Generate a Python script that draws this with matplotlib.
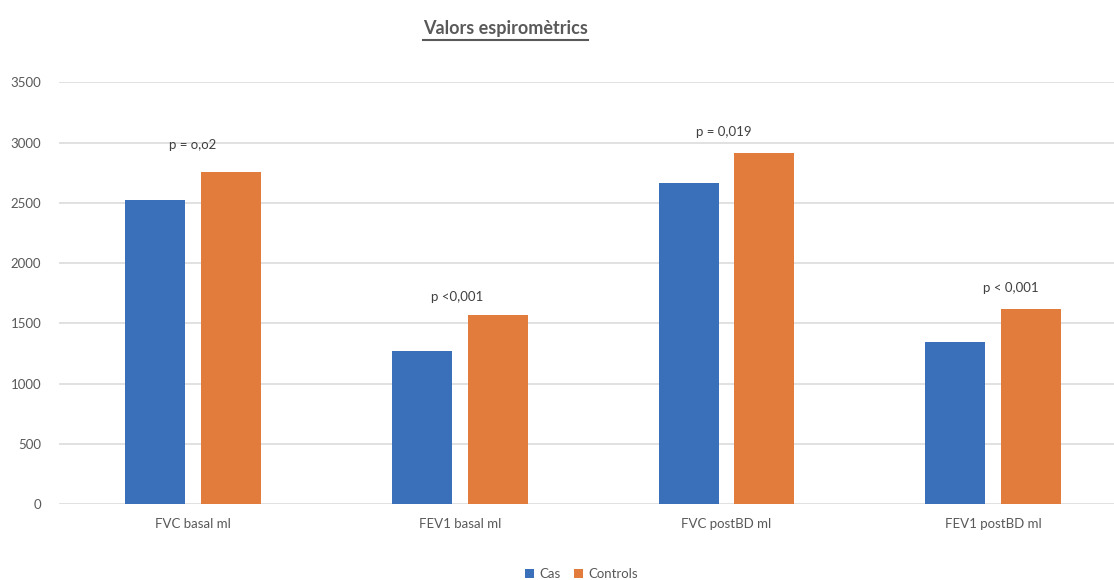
import matplotlib
matplotlib.use("Agg")
import matplotlib.pyplot as plt
import numpy as np
from matplotlib.lines import Line2D

plt.rcParams['font.family'] = ['Lato', 'DejaVu Sans']

categories = ["FVC basal ml", "FEV1 basal ml", "FVC postBD ml", "FEV1 postBD ml"]
cas = [2520, 1270, 2665, 1345]
controls = [2755, 1565, 2910, 1620]
p_labels = ["p = o,o2", "p <0,001", "p = 0,019", "p < 0,001"]
series_names = ["Cas", "Controls"]
yticks = [0, 500, 1000, 1500, 2000, 2500, 3000, 3500]

blue = "#3a6fb9"
orange = "#e27c3c"
text_gray = "#595959"

fig = plt.figure(figsize=(11.14, 5.80), dpi=100)
ax = fig.add_axes([0.0534, 0.131, 0.958, 0.727])

x = np.arange(len(categories))
w = 0.225
off = 0.142
ax.bar(x - off, cas, width=w, color=blue, label=series_names[0], zorder=3)
ax.bar(x + off, controls, width=w, color=orange, label=series_names[1], zorder=3)

ax.set_xlim(-0.5, len(categories) - 0.5)
ax.set_ylim(0, 3500)
ax.set_yticks(yticks)
ax.set_yticklabels([str(t) for t in yticks])
ax.set_xticks(x)
ax.set_xticklabels(categories)
ax.tick_params(axis='both', length=0, colors=text_gray, labelsize=9.5)
ax.tick_params(axis='y', pad=13)
ax.tick_params(axis='x', pad=10)
ax.yaxis.grid(True, color="#d9d9d9", linewidth=1.1, zorder=0)
for s in ax.spines.values():
    s.set_visible(False)

# p-value annotations above each pair of bars
label_dx = [0.0, -0.01, -0.01, 0.065]
label_dy = [225, 155, 180, 170]
for i, (c, lab) in enumerate(zip(controls, p_labels)):
    ax.text(x[i] + label_dx[i], c + label_dy[i], lab, ha='center', va='center',
            fontsize=9.5, color="#404040")

# underlined title
title = fig.text(0.4535, 0.951, "Valors espiromètrics", ha='center', va='center',
                 fontsize=13, fontweight='bold', color=text_gray)
fig.canvas.draw()
bb = title.get_window_extent().transformed(fig.transFigure.inverted())
fig.add_artist(Line2D([bb.x0, bb.x1], [bb.y0 - 0.005, bb.y0 - 0.005],
                      transform=fig.transFigure, color=text_gray, linewidth=1.5))

leg = fig.legend(loc='center', bbox_to_anchor=(0.522, 0.01), ncol=2, frameon=False,
                 fontsize=9.5, handlelength=0.7, handleheight=0.7,
                 handletextpad=0.4, columnspacing=1.0)
for t in leg.get_texts():
    t.set_color(text_gray)

fig.savefig("out.png", dpi=100)
